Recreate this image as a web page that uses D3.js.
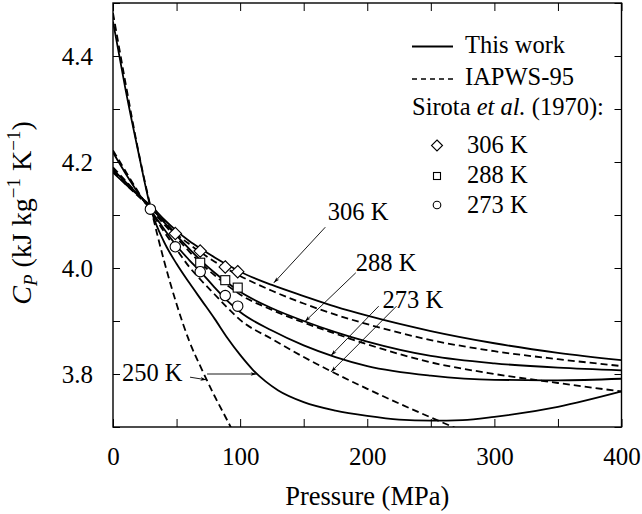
<!DOCTYPE html>
<html><head><meta charset="utf-8">
<script src="https://cdn.jsdelivr.net/npm/d3@7"></script>
<style>
body{margin:0;background:#fff}
svg{display:block}
text{font-family:"Liberation Serif","Times New Roman",serif;fill:#000}
</style>
</head><body>
<svg id="c" width="642" height="514"></svg>
<script>
// ---------- data ----------
const pressure = [0,10,20,30,40,50,60,70,80,90,100,125,150,175,200,250,300,350,400];
const cp306Work  = [4.180,4.158,4.137,4.117,4.092,4.070,4.051,4.035,4.020,4.006,3.993,3.968,3.947,3.927,3.910,3.881,3.858,3.840,3.826];
const cp306Iapws = [4.183,4.158,4.135,4.113,4.088,4.064,4.045,4.028,4.012,3.998,3.985,3.957,3.933,3.912,3.894,3.864,3.843,3.828,3.815];
const cp288Work  = [4.186,4.162,4.138,4.114,4.087,4.061,4.036,4.012,3.991,3.972,3.955,3.924,3.900,3.879,3.861,3.834,3.820,3.812,3.807];
const cp288Iapws = [4.190,4.164,4.138,4.111,4.083,4.057,4.031,4.007,3.986,3.967,3.950,3.921,3.897,3.876,3.856,3.822,3.800,3.783,3.767];
const cp273Work  = [4.218,4.178,4.141,4.108,4.074,4.042,4.015,3.990,3.963,3.938,3.917,3.882,3.854,3.832,3.815,3.797,3.789,3.788,3.791];
const cp273Iapws = [4.222,4.182,4.143,4.106,4.069,4.035,4.002,3.975,3.950,3.925,3.902,3.866,3.832,3.801,3.772,3.718,3.668,null,null];

const pressure250Work = [0,10,20,30,40,50,60,70,80,90,100,110,120,130,150,175,200,225,250,275,300,350,400];
const cp250Work       = [4.465,4.335,4.218,4.110,4.050,4.008,3.972,3.938,3.904,3.868,3.836,3.808,3.786,3.769,3.747,3.731,3.721,3.714,3.712,3.713,3.719,3.738,3.767];
const pressure250Iapws = [0,10,20,30,40,50,60,70,80,90,100];
const cp250Iapws       = [4.481,4.347,4.220,4.111,4.015,3.932,3.862,3.808,3.758,3.712,3.665];

// Sirota et al. (1970)
const sirota306P = [49.0,68.6,88.3,98.1];
const sirota306Cp = [4.065,4.032,4.002,3.993];
const sirota288P = [68.6,88.3,98.1];
const sirota288Cp = [4.010,3.977,3.963];
const sirota273P = [29.4,49.0,68.6,88.3,98.1];
const sirota273Cp = [4.111,4.040,3.993,3.948,3.928];

const xTicks = [0,50,100,150,200,250,300,350,400];
const xTickLabels = ["0","","100","","200","","300","","400"];
const yTicks = [3.7,3.8,3.9,4.0,4.1,4.2,4.3,4.4,4.5];
const yTickLabels = ["","3.8","","4.0","","4.2","","4.4",""];

// ---------- chart ----------
const svg = d3.select("#c");
const L=113, R=621.5, T=3, B=427;
const x = d3.scaleLinear().domain([0,400]).range([L,R]);
const y = d3.scaleLinear().domain([3.7,4.5]).range([B,T]);
const FS = "24.5px";

const defs = svg.append("defs");
defs.append("clipPath").attr("id","clip").append("rect")
  .attr("x",L).attr("y",T).attr("width",R-L).attr("height",B-T);
defs.append("marker").attr("id","arr").attr("viewBox","0 -5 10 10")
  .attr("refX",10).attr("refY",0).attr("markerWidth",10).attr("markerHeight",6)
  .attr("markerUnits","userSpaceOnUse").attr("orient","auto")
  .append("path").attr("d","M0,-3L10,0L0,3L2.5,0Z").attr("fill","#000");

// axes
const ax = (g)=>{ g.attr("font-family",null).attr("font-size",null); g.select(".domain").remove(); g.selectAll("line").attr("stroke","#000").attr("stroke-width",1); g.selectAll("text").style("font-size","25px"); };
svg.append("g").attr("transform",`translate(0,${B})`)
  .call(d3.axisBottom(x).tickValues(xTicks).tickSize(-8).tickPadding(20).tickFormat((d,i)=>xTickLabels[i])).call(ax);
svg.append("g").attr("transform",`translate(0,${T})`)
  .call(d3.axisTop(x).tickValues(xTicks).tickSize(-8).tickFormat("")).call(ax);
svg.append("g").attr("transform",`translate(${L},0)`)
  .call(d3.axisLeft(y).tickValues(yTicks).tickSize(-7).tickPadding(20).tickFormat((d,i)=>yTickLabels[i])).call(ax);
svg.append("g").attr("transform",`translate(${R},0)`)
  .call(d3.axisRight(y).tickValues(yTicks).tickSize(-7).tickFormat("")).call(ax);
svg.append("rect").attr("x",L).attr("y",T).attr("width",R-L).attr("height",B-T)
  .attr("fill","none").attr("stroke","#000").attr("stroke-width",1.4);

// curves
const plot = svg.append("g").attr("clip-path","url(#clip)");
const line = d3.line().defined(d=>d[1]!=null).x(d=>x(d[0])).y(d=>y(d[1])).curve(d3.curveMonotoneX);
const series = [
  [pressure, cp306Work, false],[pressure, cp306Iapws, true],
  [pressure, cp288Work, false],[pressure, cp288Iapws, true],
  [pressure, cp273Work, false],[pressure, cp273Iapws, true],
  [pressure250Work, cp250Work, false],[pressure250Iapws, cp250Iapws, true]
];
series.forEach(([ps,cs,dashed])=>{
  plot.append("path").datum(ps.map((p,i)=>[p,cs[i]]))
    .attr("d",line).attr("fill","none").attr("stroke","#000")
    .attr("stroke-width",1.8).attr("stroke-dasharray",dashed?"7,4":null);
});

// annotations
function arrow(p1,c1,p2,c2){
  svg.append("line").attr("x1",x(p1)).attr("y1",y(c1)).attr("x2",x(p2)).attr("y2",y(c2))
    .attr("stroke","#000").attr("stroke-width",0.9).attr("marker-end","url(#arr)");
}
function label(p,c,t){ svg.append("text").attr("x",x(p)).attr("y",y(c)).style("font-size",FS).text(t); }
label(169,4.09,"306 K"); arrow(167,4.077,126.5,3.972);
label(191,3.994,"288 K"); arrow(191,3.991,151,3.899);
label(212,3.925,"273 K"); arrow(209,3.928,171.5,3.835); arrow(223,3.928,171.5,3.804);
label(7,3.786,"250 K"); arrow(60.6,3.794,73.5,3.789); arrow(74,3.80,113,3.80);

// markers
const mk = svg.append("g");
function diamond(g,cx,cy,r){ g.append("path").attr("d",`M${cx},${cy-r}L${cx+r},${cy}L${cx},${cy+r}L${cx-r},${cy}Z`).attr("fill","#fff").attr("stroke","#000").attr("stroke-width",1.1); }
function square(g,cx,cy,h){ g.append("rect").attr("x",cx-h).attr("y",cy-h).attr("width",2*h).attr("height",2*h).attr("fill","#fff").attr("stroke","#000").attr("stroke-width",1.1); }
function circle(g,cx,cy,r){ g.append("circle").attr("cx",cx).attr("cy",cy).attr("r",r).attr("fill","#fff").attr("stroke","#000").attr("stroke-width",1.1); }
sirota306P.forEach((p,i)=>diamond(mk,x(p),y(sirota306Cp[i]),6.2));
sirota288P.forEach((p,i)=>square(mk,x(p),y(sirota288Cp[i]),4.5));
sirota273P.forEach((p,i)=>circle(mk,x(p),y(sirota273Cp[i]),5.2));

// legend
const lg = svg.append("g");
lg.append("line").attr("x1",412).attr("x2",453).attr("y1",46.5).attr("y2",46.5).attr("stroke","#000").attr("stroke-width",2);
lg.append("line").attr("x1",412).attr("x2",453).attr("y1",79).attr("y2",79).attr("stroke","#000").attr("stroke-width",1.4).attr("stroke-dasharray","5,4");
lg.append("text").attr("x",465).attr("y",53).style("font-size",FS).text("This work");
lg.append("text").attr("x",465).attr("y",85).style("font-size",FS).text("IAPWS-95");
const st = lg.append("text").attr("x",412).attr("y",115).style("font-size",FS);
st.append("tspan").text("Sirota ");
st.append("tspan").attr("font-style","italic").text("et al.");
st.append("tspan").text(" (1970):");
diamond(lg,437,145.5,5.5); square(lg,437,176,3.5); circle(lg,437,205,3.8);
lg.append("text").attr("x",467).attr("y",153).style("font-size",FS).text("306 K");
lg.append("text").attr("x",467).attr("y",183).style("font-size",FS).text("288 K");
lg.append("text").attr("x",467).attr("y",213).style("font-size",FS).text("273 K");

// axis titles
svg.append("text").attr("x",(L+R)/2).attr("y",505).attr("text-anchor","middle").style("font-size","26.5px").text("Pressure (MPa)");
const yl = svg.append("text").attr("transform","translate(31,213) rotate(-90)").attr("text-anchor","middle").style("font-size","28px");
yl.append("tspan").attr("font-style","italic").text("C");
yl.append("tspan").attr("font-style","italic").style("font-size","19px").attr("dy",6).text("P");
yl.append("tspan").attr("dy",-6).text("  (kJ kg");
yl.append("tspan").style("font-size","19px").attr("dy",-11).text("−1");
yl.append("tspan").attr("dy",11).text(" K");
yl.append("tspan").style("font-size","19px").attr("dy",-11).text("−1");
yl.append("tspan").attr("dy",11).text(")");
</script>
</body></html>
